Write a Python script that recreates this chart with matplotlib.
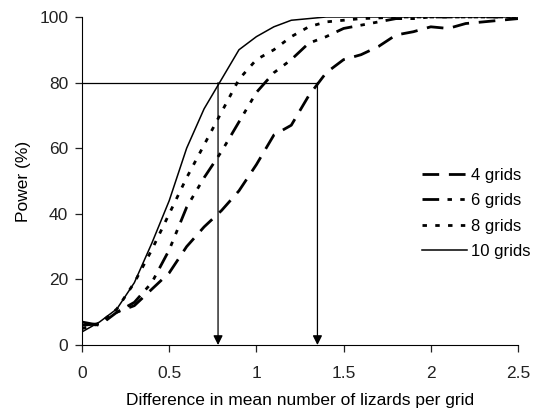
import numpy as np
import matplotlib.pyplot as plt

plt.rcParams['font.family'] = ['Liberation Sans', 'DejaVu Sans']

# difference in mean number of lizards per grid
diff = np.round(np.arange(0, 2.51, 0.1), 1)

# power (%) for each number of grids
power_4 = [7, 6, 10, 12, 17, 22, 30, 36, 41, 47, 55, 64, 67, 76, 83, 87,
           88.5, 91, 94.5, 95.5, 97, 96.5, 98, 98.5, 99, 99.5]
power_6 = [6, 6.5, 10, 13, 19, 29, 42, 51, 59, 68, 77, 83, 87, 92, 94, 96.5,
           97.5, 98.5, 99.5, 99.5, 100, 100, 100, 100, 100, 100]
power_8 = [5, 6.5, 11, 19, 29, 40, 51, 61, 71, 81, 87, 90, 94, 97, 98.5, 99,
           99.5, 99.7, 100, 100, 100, 100, 100, 100, 100, 100]
power_10 = [4, 7, 11, 19, 31, 44, 60, 72, 81, 90, 94, 97, 99, 99.5, 100, 100,
            100, 100, 100, 100, 100, 100, 100, 100, 100, 100]

# differences detectable with 80% power (10 and 4 grids)
target_power = 80
detect_10 = 0.78
detect_4 = 1.35

fig = plt.figure(figsize=(5.34, 4.08), dpi=100)
ax = fig.add_axes([0.1536, 0.1544, 0.8164, 0.8040])

ax.plot(diff, power_4, color='black', lw=2.0, dashes=(6, 3.5), label='4 grids')
ax.plot(diff, power_6, color='black', lw=2.0, dashes=(6, 3, 1.6, 3, 1.6, 3), label='6 grids')
ax.plot(diff, power_8, color='black', lw=2.0, dashes=(1.6, 3), label='8 grids')
ax.plot(diff, power_10, color='black', lw=1.1, label='10 grids')

# 80% power reference lines with arrows
ax.plot([0, detect_4], [target_power, target_power], color='black', lw=0.9)
for d in (detect_10, detect_4):
    ax.annotate('', xy=(d, 0), xytext=(d, target_power),
                arrowprops=dict(arrowstyle='-|>', color='black', lw=0.9,
                                mutation_scale=14, shrinkA=0, shrinkB=0))

ax.set_xlim(0, 2.5)
ax.set_ylim(0, 100)
ax.set_xticks([0, 0.5, 1, 1.5, 2, 2.5])
ax.set_xticklabels(['0', '0.5', '1', '1.5', '2', '2.5'])
ax.set_yticks([0, 20, 40, 60, 80, 100])
ax.spines['top'].set_visible(False)
ax.spines['right'].set_visible(False)
ax.tick_params(direction='out', length=5, width=0.9, labelsize=12.5, colors='#222222')
ax.tick_params(axis='x', pad=10)
ax.tick_params(axis='y', pad=5)
ax.set_xlabel('Difference in mean number of lizards per grid', fontsize=12.5, labelpad=9)
ax.set_ylabel('Power (%)', fontsize=12.5, labelpad=6)

leg = ax.legend(loc='upper left', bbox_to_anchor=(0.78, 0.54), frameon=False,
                borderpad=0, borderaxespad=0,
                fontsize=12, handlelength=2.7, handletextpad=0.25, labelspacing=0.62)

fig.savefig('out.png', dpi=100)
